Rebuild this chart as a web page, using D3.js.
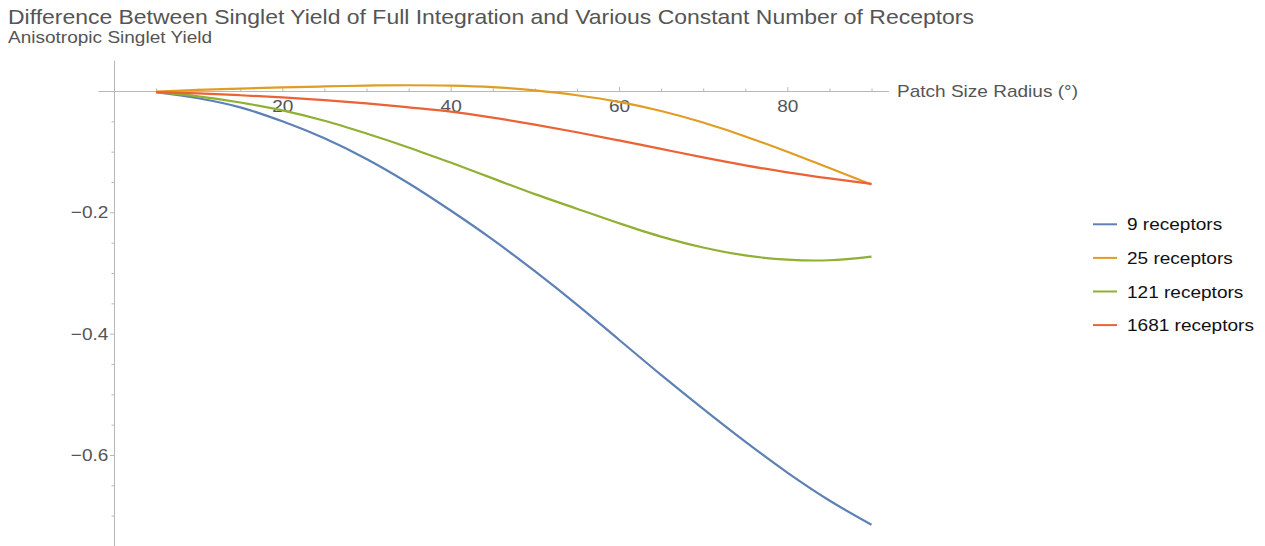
<!DOCTYPE html>
<html>
<head>
<meta charset="utf-8">
<script src="https://cdn.jsdelivr.net/npm/d3@7"></script>
<style>
  html, body { margin: 0; padding: 0; background: #ffffff; }
  svg { display: block; font-family: "Liberation Sans", Arial, Helvetica, sans-serif; }
</style>
</head>
<body>
<svg id="chart" width="1265" height="546"></svg>
<script>
// Patch size radius (degrees) at which each curve is sampled
const radius = [5, 10, 15, 20, 25, 30, 35, 40, 45, 50, 55, 60, 65, 70, 75, 80, 85, 90];

// Difference in anisotropic singlet yield vs. full integration
const receptors9    = [-0.002, -0.012, -0.027, -0.050, -0.078, -0.112, -0.152, -0.197, -0.245, -0.297, -0.352, -0.410, -0.468, -0.524, -0.578, -0.629, -0.675, -0.715];
const receptors25   = [-0.001, 0.002, 0.004, 0.006, 0.0075, 0.009, 0.0095, 0.009, 0.0065, 0.001, -0.007, -0.018, -0.033, -0.052, -0.075, -0.100, -0.127, -0.154];
const receptors121  = [-0.002, -0.009, -0.019, -0.032, -0.049, -0.070, -0.093, -0.118, -0.144, -0.170, -0.194, -0.218, -0.240, -0.258, -0.271, -0.278, -0.279, -0.273];
const receptors1681 = [-0.002, -0.004, -0.007, -0.0105, -0.015, -0.0205, -0.027, -0.034, -0.044, -0.0555, -0.068, -0.0815, -0.0955, -0.1095, -0.1225, -0.134, -0.144, -0.153];

const seriesNames = ["9 receptors", "25 receptors", "121 receptors", "1681 receptors"];
const seriesValues = [receptors9, receptors25, receptors121, receptors1681];
const seriesColors = ["#5E81B5", "#E19C24", "#8FB032", "#EB6235"];

const xMajorTicks = [20, 40, 60, 80];
const xMinorTicks = [5, 10, 15, 25, 30, 35, 45, 50, 55, 65, 70, 75, 85, 90];
const yMajorTicks = [-0.2, -0.4, -0.6];
const yMinorTicks = [-0.05, -0.1, -0.15, -0.25, -0.3, -0.35, -0.45, -0.5, -0.55, -0.65, -0.7];

const titleText = "Difference Between Singlet Yield of Full Integration and Various Constant Number of Receptors";
const subtitleText = "Anisotropic Singlet Yield";
const xAxisLabel = "Patch Size Radius (°)";

// Horizontal text stretch used for every label
const SX = 1.12;
const fmtMinus = v => String(v).replace("-", "\u2212");

const svg = d3.select("#chart");

const x = d3.scaleLinear().domain([0, 90]).range([114, 871.5]);
const y = d3.scaleLinear().domain([0, -0.6]).range([91, 455]);

// Axis scales covering the full drawn extent of each axis line
const xExtent = [-1.9, 92];
const yExtent = [0.051, -0.75];
const xAxisScale = x.copy().domain(xExtent).range(xExtent.map(x));
const yAxisScale = y.copy().domain(yExtent).range(yExtent.map(y));

const axisColor = "#b8b8b8";
const labelColor = "#555555";

// ---- x axis (through y = 0) ----
const gx = svg.append("g").attr("transform", `translate(0,${y(0)})`);
gx.append("g")
  .call(d3.axisBottom(xAxisScale).tickValues(xMinorTicks).tickSizeInner(-2.5).tickSizeOuter(0).tickFormat(""))
  .call(g => g.select(".domain").remove());
gx.append("g")
  .call(d3.axisBottom(xAxisScale).tickValues(xMajorTicks).tickSizeInner(-4).tickSizeOuter(0).tickPadding(8.5))
  .call(g => g.selectAll("text")
    .attr("fill", labelColor)
    .style("font-size", "17px")
    .attr("transform", `scale(${SX},1)`));
gx.selectAll(".domain, line").attr("stroke", axisColor);

// ---- y axis (through x = 0) ----
const gy = svg.append("g").attr("transform", `translate(${x(0)},0)`);
gy.append("g")
  .call(d3.axisLeft(yAxisScale).tickValues(yMinorTicks).tickSizeInner(2.5).tickSizeOuter(0).tickFormat(""))
  .call(g => g.select(".domain").remove());
gy.append("g")
  .call(d3.axisLeft(yAxisScale).tickValues(yMajorTicks).tickSizeInner(4).tickSizeOuter(0)
    .tickPadding(1).tickFormat(d => fmtMinus(d3.format(".1f")(d))))
  .call(g => g.selectAll("text")
    .attr("fill", labelColor)
    .style("font-size", "17px")
    .attr("transform", `scale(${SX},1)`));
gy.selectAll(".domain, line").attr("stroke", axisColor);

// ---- curves ----
const line = d3.line()
  .x((d, i) => x(radius[i]))
  .y(d => y(d))
  .curve(d3.curveCatmullRom.alpha(0.5));

svg.append("g").selectAll("path")
  .data(seriesValues)
  .join("path")
  .attr("d", d => line(d))
  .attr("fill", "none")
  .attr("stroke", (d, i) => seriesColors[i])
  .attr("stroke-width", 2.2)
  .attr("stroke-linejoin", "round")
  .attr("stroke-linecap", "butt");

// ---- text helpers ----
function stretchedText(parent, str, px, py, size, color, anchor) {
  return parent.append("text")
    .attr("transform", `translate(${px},${py}) scale(${SX},1)`)
    .attr("text-anchor", anchor || "start")
    .attr("fill", color)
    .style("font-size", size + "px")
    .text(str);
}

// x axis label
stretchedText(svg, xAxisLabel, 897, 97, 17, labelColor);

// title and subtitle
stretchedText(svg, titleText, 8, 24, 20.5, labelColor);
stretchedText(svg, subtitleText, 8, 43, 17, labelColor);

// ---- legend ----
const legend = svg.append("g").attr("transform", "translate(1093,224.3)");
const rowStep = 33.6;
const rows = legend.selectAll("g")
  .data(seriesNames)
  .join("g")
  .attr("transform", (d, i) => `translate(0,${i * rowStep})`);
rows.append("line")
  .attr("x1", 0).attr("x2", 24)
  .attr("y1", 0).attr("y2", 0)
  .attr("stroke", (d, i) => seriesColors[i])
  .attr("stroke-width", 2);
rows.each(function(d) {
  stretchedText(d3.select(this), d, 34, 6, 17, "#111111");
});
</script>
</body>
</html>
